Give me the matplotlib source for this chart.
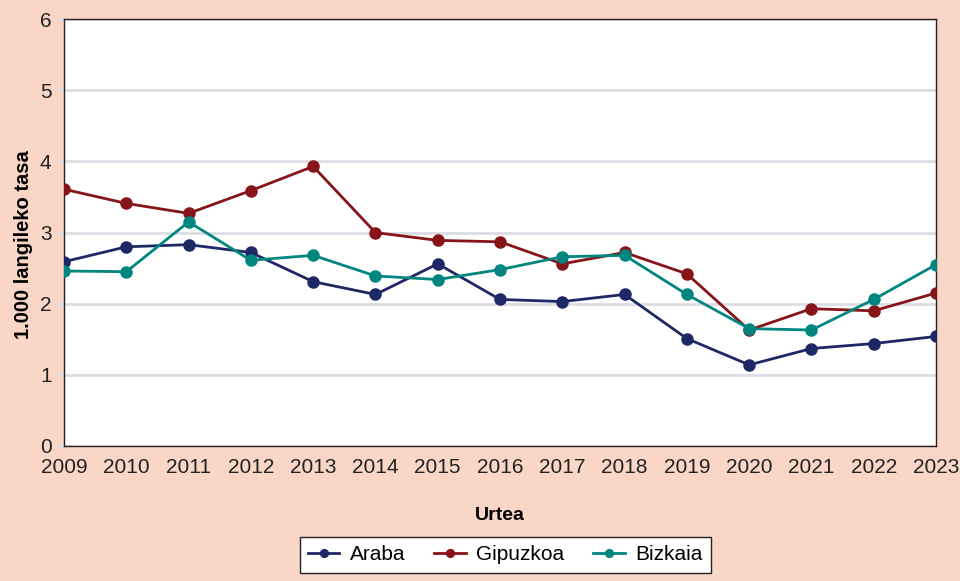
# Istripu tasa lurraldeka, 2009-2023

import matplotlib.pyplot as plt

years = [2009, 2010, 2011, 2012, 2013, 2014, 2015, 2016, 2017, 2018, 2019, 2020, 2021, 2022, 2023]
araba = [2.59, 2.80, 2.83, 2.72, 2.31, 2.13, 2.56, 2.06, 2.03, 2.13, 1.51, 1.14, 1.37, 1.44, 1.54]
gipuzkoa = [3.61, 3.41, 3.27, 3.59, 3.93, 3.00, 2.89, 2.87, 2.56, 2.72, 2.42, 1.63, 1.93, 1.90, 2.15]
bizkaia = [2.46, 2.45, 3.15, 2.61, 2.68, 2.39, 2.34, 2.48, 2.66, 2.68, 2.13, 1.65, 1.63, 2.06, 2.55]

plt.rcParams['font.family'] = ['Liberation Sans', 'DejaVu Sans']
bg = '#FAD6C6'

fig = plt.figure(figsize=(9.6, 5.81), dpi=100, facecolor=bg)
ax = fig.add_axes([0.0667, 0.2324, 0.9083, 0.7346])
ax.set_facecolor('white')

ax.plot(years, araba, marker='o', color='#1F2867', lw=2, ms=8, label='Araba', zorder=3)
ax.plot(years, gipuzkoa, marker='o', color='#861418', lw=2, ms=8, label='Gipuzkoa', zorder=3)
ax.plot(years, bizkaia, marker='o', color='#00857F', lw=2, ms=8, label='Bizkaia', zorder=3)

ax.set_xlim(2009, 2023)
ax.set_ylim(0, 6)
ax.set_xticks(years)
ax.set_yticks(range(0, 7))
ax.grid(axis='y', color='#DCDCE4', lw=2)
ax.set_axisbelow(True)
for s in ax.spines.values():
    s.set_color('#222222')
    s.set_linewidth(1)
ax.tick_params(labelsize=15, colors='#222222')
ax.tick_params(axis='x', length=0, pad=9)
ax.tick_params(axis='y', length=5, width=2, color='#DCDCE4', pad=4)

ax.set_xlabel('Urtea', fontsize=14, fontweight='bold', labelpad=21)
ax.set_ylabel('1.000 langileko tasa', fontsize=14.5, fontweight='bold')
ax.yaxis.set_label_coords(-0.036, 0.471)

leg = ax.legend(loc='center', bbox_to_anchor=(0.506, -0.255), ncol=3, fontsize=15,
                frameon=True, fancybox=False, edgecolor='#222222', framealpha=1,
                handlelength=1.5, handletextpad=0.5, columnspacing=1.4,
                markerscale=0.7, borderpad=0.4)
leg.get_frame().set_linewidth(1)

plt.savefig('out.png', dpi=100, facecolor=bg)
